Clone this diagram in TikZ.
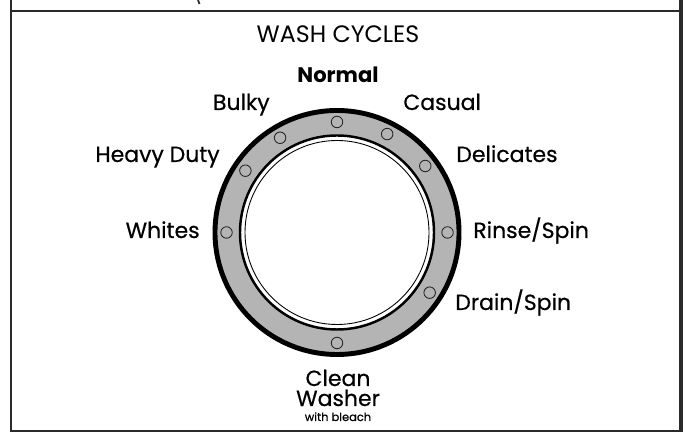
\documentclass[tikz,border=0pt]{standalone}
\usepackage{fontspec}
\setmainfont{Poppins}
\newfontfamily\cycfont{Poppins}[FakeBold=0.5]
\usepackage{tikz}
\usetikzlibrary{positioning}
\definecolor{rimgray}{HTML}{B4B4B4}
\definecolor{lineblack}{HTML}{2A2A2A}
\tikzset{
  cycnode/.style={inner sep=0pt,font=\cycfont\fontsize{12.5}{14}\selectfont},
  boldcyc/.style={inner sep=0pt,font=\fontsize{12}{14}\selectfont\bfseries},
  titlenode/.style={inner sep=0pt,font=\fontsize{13.5}{15}\selectfont},
  smallcyc/.style={inner sep=0pt,font=\cycfont\fontsize{6.5}{7}\selectfont},
  dotnode/.style={circle,draw=black!85,line width=0.5pt,fill=rimgray,minimum size=2.3mm,inner sep=0pt},
  frameline/.style={line width=1.6pt,lineblack},
}

\begin{document}
\begin{tikzpicture}
  \useasboundingbox (0,0) rectangle (13.72,8.64);
  % panel frame
  \draw[frameline] (0.22,0) -- (0.22,8.64);
  \draw[frameline,line width=2.6pt] (13.62,0) -- (13.62,8.64);
  \draw[frameline] (0.22,8.42) -- (13.62,8.42);
  \draw[frameline] (0.22,0.02) -- (13.62,0.02);
  \draw[frameline,line width=1pt] (3.96,8.64) -- (3.99,8.56);
  % dial
  \coordinate (dial) at (6.74,3.99);
  \fill[rimgray] (dial) circle (2.44);
  \draw[line width=2.8pt,black] (dial) circle (2.44);
  \draw[line width=1.4pt,black,fill=white] (dial) circle (1.94);
  \draw[line width=0.5pt,black] (dial) circle (1.84);
  \node[dotnode] (dNormal) at ([shift={(90:2.21)}]dial) {};
  \node[dotnode] (dCasual) at ([shift={(63:2.21)}]dial) {};
  \node[dotnode] (dDelicates) at ([shift={(37:2.21)}]dial) {};
  \node[dotnode] (dRinse) at ([shift={(0:2.21)}]dial) {};
  \node[dotnode] (dDrain) at ([shift={(-33:2.21)}]dial) {};
  \node[dotnode] (dClean) at ([shift={(-90:2.21)}]dial) {};
  \node[dotnode] (dWhites) at ([shift={(180:2.21)}]dial) {};
  \node[dotnode] (dHeavy) at ([shift={(146:2.21)}]dial) {};
  \node[dotnode] (dBulky) at ([shift={(121:2.21)}]dial) {};
  % labels
  \node[titlenode,anchor=base] (nTitle) at (6.76,7.78) {WASH CYCLES};
  \node[boldcyc,anchor=base] (nNormal) at (6.76,6.98) {Normal};
  \node[cycnode,anchor=base east] (nBulky) at (5.40,6.44) {Bulky};
  \node[cycnode,anchor=base west] (nCasual) at (8.06,6.44) {Casual};
  \node[cycnode,anchor=base east] (nHeavy) at (4.40,5.40) {Heavy Duty};
  \node[cycnode,anchor=base west] (nDelicates) at (9.12,5.40) {Delicates};
  \node[cycnode,anchor=base east] (nWhites) at (4.00,3.88) {Whites};
  \node[cycnode,anchor=base west] (nRinse) at (9.46,3.88) {Rinse/Spin};
  \node[cycnode,anchor=base west] (nDrain) at (9.10,2.44) {Drain/Spin};
  \node[cycnode,anchor=base] (nClean) at (6.76,0.92) {Clean};
  \node[cycnode,anchor=base] (nWasher) at (6.76,0.52) {Washer};
  \node[smallcyc,anchor=base] (nBleach) at (6.76,0.22) {with bleach};
\end{tikzpicture}
\end{document}
